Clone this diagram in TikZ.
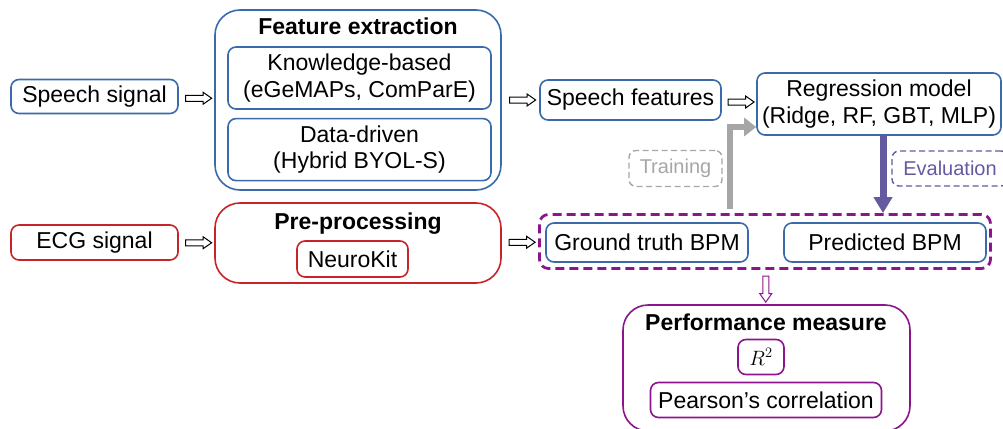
\documentclass[tikz,border=0pt]{standalone}
\usepackage{fontspec}
\setmainfont{Liberation Sans}
\usepackage{tikz}
\usetikzlibrary{arrows.meta,positioning,calc,shapes.arrows}

\definecolor{boxblue}{RGB}{58,106,170}
\definecolor{ecgred}{RGB}{200,35,40}
\definecolor{perfpurple}{RGB}{140,20,140}
\definecolor{evalpurple}{RGB}{100,90,160}
\definecolor{traingray}{RGB}{166,166,166}

\tikzset{
  box/.style={draw=boxblue, line width=1.6pt, rounded corners=8pt, inner sep=0pt,
    align=center, font=\fontsize{23}{26.5}\selectfont},
  redbox/.style={box, draw=ecgred},
  purplebox/.style={box, draw=perfpurple},
  bigbox/.style={rounded corners=25pt},
  boxtitle/.style={font=\fontsize{23}{26.5}\selectfont\bfseries, inner sep=0pt, anchor=base},
  hollow/.style={single arrow, draw=black, line width=1pt, minimum height=26pt,
    minimum width=11pt, inner sep=2.5pt, single arrow head extend=3pt, single arrow tip angle=70},
  grpbox/.style={draw=perfpurple, line width=2.8pt, rounded corners=9pt, dash pattern=on 9pt off 5pt},
  tag/.style={line width=1.4pt, rounded corners=7pt, dash pattern=on 6pt off 3.5pt,
    inner sep=0pt, font=\fontsize{20}{24}\selectfont},
  trainarrow/.style={draw=traingray, line width=6pt, -{Triangle[length=12pt,width=18pt]}},
  evalarrow/.style={draw=evalpurple, line width=7pt, -{Triangle[length=16pt,width=18pt]}}
}

\begin{document}
\begin{tikzpicture}[x=1pt, y=-1pt]
\useasboundingbox (0,0) rectangle (1003,428);

% speech branch
\node[box, minimum width=167pt, minimum height=34pt] (speech) at (94.5,96.5) {Speech signal};
\node[box, bigbox, minimum width=286pt, minimum height=180pt] (feat) at (358,100) {};
\node[boxtitle] (feattitle) at (358,35) {Feature extraction};
\node[box, minimum width=263pt, minimum height=62pt] (know) at (359.5,78) {Knowledge-based\\(eGeMAPs, ComParE)};
\node[box, minimum width=263pt, minimum height=62pt] (data) [below=8pt of know] {Data-driven\\(Hybrid BYOL-S)};
\node[box, minimum width=181pt, minimum height=40pt] (sfeat) at (630.5,100) {Speech features};
\node[box, minimum width=244pt, minimum height=62pt] (reg) at (879,104) {Regression model\\(Ridge, RF, GBT, MLP)};

% ECG branch
\node[redbox, minimum width=167pt, minimum height=35pt] (ecg) at (94.5,242.5) {ECG signal};
\node[redbox, bigbox, minimum width=286pt, minimum height=80pt] (pre) at (358,243) {};
\node[boxtitle] (pretitle) at (358,229) {Pre-processing};
\node[redbox, minimum width=111pt, minimum height=36pt] (neuro) at (352.5,259) {NeuroKit};

% BPM group
\node[grpbox, minimum width=451pt, minimum height=54pt] (grp) at (765,241.5) {};
\node[box, minimum width=202pt, minimum height=39pt] (gt) at (647,242.5) {Ground truth BPM};
\node[box, minimum width=202pt, minimum height=39pt] (pred) at (885,242.5) {Predicted BPM};

% performance
\node[purplebox, bigbox, minimum width=287pt, minimum height=126pt] (perf) at (766.5,368) {};
\node[boxtitle] (perftitle) at (766,330) {Performance measure};
\node[purplebox, minimum width=46pt, minimum height=35pt] (r2) at (761,357) {\fontsize{20}{24}\selectfont$R^2$};
\node[purplebox, minimum width=231pt, minimum height=35pt] (pearson) at (766,400) {Pearson’s correlation};

% hollow arrows
\node[hollow] (a1) at ($(speech.east)!0.5!(feat.west)$) {};
\node[hollow] (a2) at ($(feat.east)!0.5!(sfeat.west)$) {};
\node[hollow] (a3) at ($(sfeat.east)!0.5!(reg.west)$) {};
\node[hollow] (a4) at ($(ecg.east)!0.5!(pre.west)$) {};
\node[hollow] (a5) at ($(pre.east)!0.5!(grp.west)$) {};
\node[hollow, draw=perfpurple, rotate=-90] (a6) at ($(grp.south)!0.5!(perf.north)$) {};

% training / evaluation
\coordinate (trainfoot) at (730,209);
\draw[trainarrow] (trainfoot) |- ([yshift=-23pt]reg.west);
\draw[evalarrow] ([xshift=4pt]reg.south) -- ([xshift=4pt]reg.south |- grp.north);
\node[tag, draw=traingray, text=traingray, minimum width=93pt, minimum height=36pt] (trainlbl) at (675.5,168.5) {Training};
\node[tag, draw=evalpurple, text=evalpurple, minimum width=116pt, minimum height=35pt] (evallbl) at (950,168.5) {Evaluation};
\end{tikzpicture}
\end{document}
